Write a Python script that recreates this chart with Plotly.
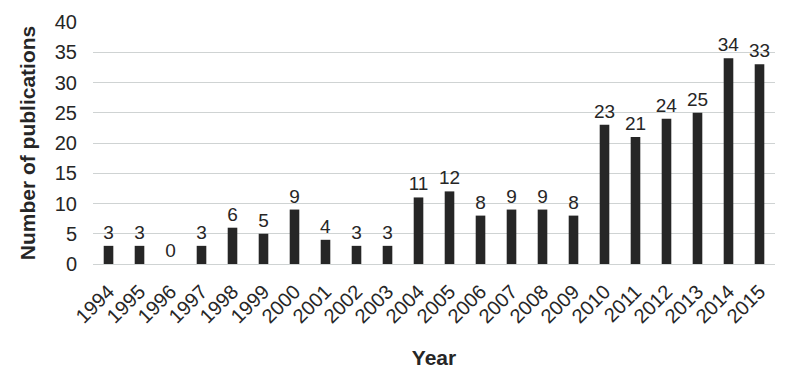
import plotly.graph_objects as go

years = [str(y) for y in range(1994, 2016)]
counts = [3, 3, 0, 3, 6, 5, 9, 4, 3, 3, 11, 12, 8, 9, 9, 8, 23, 21, 24, 25, 34, 33]
y_ticks = [0, 5, 10, 15, 20, 25, 30, 35, 40]

fig = go.Figure(go.Bar(
    x=years, y=counts,
    marker=dict(color="#262626", line=dict(width=0)),
    text=[str(c) for c in counts],
    textposition="outside",
    constraintext="none",
    textfont=dict(family="Liberation Sans, Arial", size=19, color="#262626"),
    cliponaxis=False,
))

fig.update_layout(
    width=786, height=376,
    margin=dict(l=93, r=11, t=19, b=111),
    paper_bgcolor="white", plot_bgcolor="white",
    bargap=0.69,
    showlegend=False,
    uniformtext=dict(minsize=19, mode="show"),
    font=dict(family="Liberation Sans, Arial", color="#262626"),
    xaxis=dict(
        title=dict(text="<b>Year</b>", font=dict(size=21), standoff=23),
        tickangle=-45,
        tickfont=dict(size=20),
        showgrid=False,
        showline=False,
        ticks="",
        ticklabelstandoff=11,
    ),
    yaxis=dict(
        title=dict(text="<b>Number of publications</b>", font=dict(size=21), standoff=13),
        range=[0, 40],
        tickvals=y_ticks,
        tickfont=dict(size=20),
        showgrid=True,
        gridcolor="#cfd3d3",
        gridwidth=1,
        zeroline=True,
        zerolinecolor="#cfd3d3",
        zerolinewidth=1,
        ticks="",
        ticklabelstandoff=15,
    ),
)

fig.write_html("out.html")
